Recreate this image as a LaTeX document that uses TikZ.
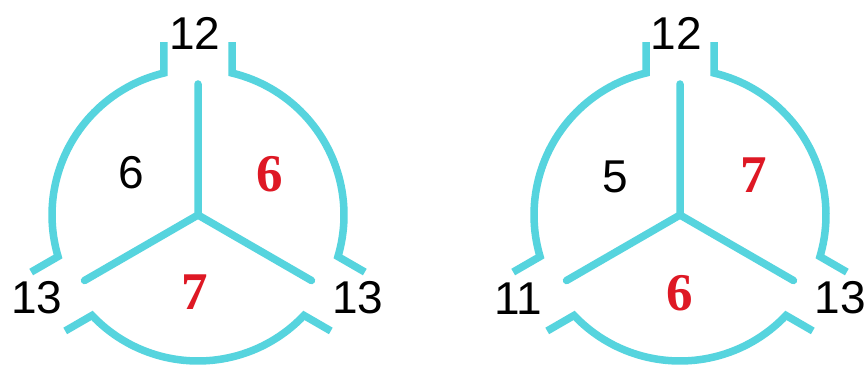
\documentclass[tikz,border=0pt]{standalone}
\usepackage{fontspec}
\setmainfont{Liberation Sans}
\newfontfamily\redserif{Liberation Serif}
\definecolor{wheelcyan}{RGB}{86,212,222}
\definecolor{numred}{RGB}{222,24,36}
\begin{document}
\begin{tikzpicture}[x=1pt,y=1pt,
  wheel/.style={draw=wheelcyan, line width=7.5pt, line join=miter},
  spoke/.style={draw=wheelcyan, line width=7.5pt, line cap=round, line join=round},
  blacknum/.style={inner sep=0pt, font=\fontsize{46}{50}\selectfont},
  rednum/.style={inner sep=0pt, text=numred, font=\redserif\bfseries\fontsize{53}{58}\selectfont}]
\useasboundingbox (0,0) rectangle (864,364);
\fill[white] (0,0) rectangle (864,364);
\foreach \cx in {198,680} {
  \begin{scope}[shift={(\cx,149)}]
    \draw[wheel] (103.47:146pt) ++(90:31pt) -- (103.47:146pt)
      arc[start angle=103.47, end angle=196.53, radius=146pt] -- ++(210:31pt);
    \draw[wheel] (223.47:146pt) ++(210:31pt) -- (223.47:146pt)
      arc[start angle=223.47, end angle=316.53, radius=146pt] -- ++(330:31pt);
    \draw[wheel] (343.47:146pt) ++(330:31pt) -- (343.47:146pt)
      arc[start angle=343.47, end angle=436.53, radius=146pt] -- ++(90:31pt);
    \draw[spoke] (90:131pt) -- (0,0) -- (210:131pt);
    \draw[spoke] (0,0) -- (330:131pt);
  \end{scope}
}
% left wheel
\node[blacknum] (La) at (195,331) {12};
\node[blacknum] (Lb) at (131,191) {6};
\node[rednum]   (Lc) at (270,190) {6};
\node[blacknum] (Ld) at (37,66) {13};
\node[rednum]   (Le) at (195,72) {7};
\node[blacknum] (Lf) at (358,66) {13};
% right wheel
\node[blacknum] (Ra) at (676,331) {12};
\node[blacknum] (Rb) at (615,187) {5};
\node[rednum]   (Rc) at (754,189) {7};
\node[blacknum] (Rd) at (518,65) {11};
\node[rednum]   (Re) at (680,71) {6};
\node[blacknum] (Rf) at (840,66) {13};
\end{tikzpicture}
\end{document}
